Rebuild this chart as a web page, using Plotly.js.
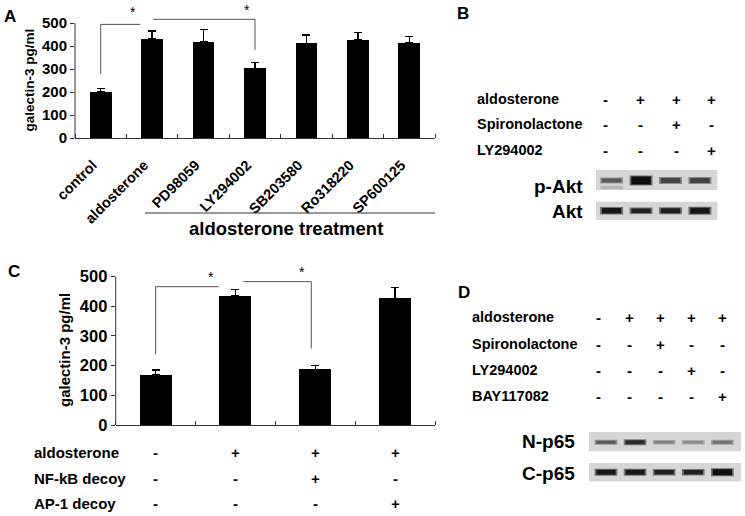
<!DOCTYPE html>
<html><head><meta charset="utf-8">
<script src="https://cdn.plot.ly/plotly-3.0.1.min.js"></script>
<style>html,body{margin:0;padding:0;background:#fff}#chart{width:745px;height:516px}</style>
</head><body><div id="chart"></div>
<script>
// ---------- Panel A data ----------
const aCategories = ['control', 'aldosterone', 'PD98059', 'LY294002', 'SB203580', 'Ro318220', 'SP600125'];
const aValues = [200, 430, 419, 303, 412, 426, 414];
const aErrors = [15, 35, 53, 26, 36, 34, 26];
const aGroupLabel = 'aldosterone treatment';
const yTickValues = [0, 100, 200, 300, 400, 500];
const yTitleText = 'galectin-3 pg/ml';
const aBracket1X = [0, 0, 0.77];
const aBracket1Y = [278, 494, 494];
const aBracket2X = [1.02, 3, 3];
const aBracket2Y = [516, 516, 383];
const aStarX = [0.63, 2.84];
const aStarY = [548, 558];

// ---------- Panel C data ----------
const cValues = [168, 435, 188, 427];
const cErrors = [17, 22, 13, 37];
const cRowLabels = ['aldosterone', 'NF-kB decoy', 'AP-1 decoy'];
const cAldosterone = ['-', '+', '+', '+'];
const cNFkB = ['-', '-', '+', '-'];
const cAP1 = ['-', '-', '-', '+'];
const cBracket1X = [0, 0, 0.79];
const cBracket1Y = [238, 466, 466];
const cBracket2X = [1.1, 1.95, 1.95];
const cBracket2Y = [483, 483, 258];
const cStarX = [0.70, 1.84];
const cStarY = [499, 515];

// ---------- Panel B data ----------
const bRowLabels = ['aldosterone', 'Spironolactone', 'LY294002'];
const bAldosterone = ['-', '+', '+', '+'];
const bSpironolactone = ['-', '-', '+', '-'];
const bLY294002 = ['-', '-', '-', '+'];
const bBlotLabels = ['p-Akt', 'Akt'];
const pAktIntensity = [0.62, 1.0, 0.72, 0.72];
const pAktThickness = [4, 8, 5, 5];
const pAktLowerIntensity = [0.15, 0, 0, 0];
const aktIntensity = [0.95, 0.9, 0.92, 0.95];
const aktThickness = [5.5, 4.5, 5, 6];

// ---------- Panel D data ----------
const dRowLabels = ['aldosterone', 'Spironolactone', 'LY294002', 'BAY117082'];
const dAldosterone = ['-', '+', '+', '+', '+'];
const dSpironolactone = ['-', '-', '+', '-', '-'];
const dLY294002 = ['-', '-', '-', '+', '-'];
const dBAY117082 = ['-', '-', '-', '-', '+'];
const dBlotLabels = ['N-p65', 'C-p65'];
const np65Intensity = [0.62, 0.85, 0.42, 0.36, 0.5];
const np65Thickness = [3, 4, 2.5, 2.5, 3];
const cp65Intensity = [0.95, 0.95, 0.9, 0.9, 1.0];
const cp65Thickness = [5, 5, 4.5, 4.5, 6];

// ---------- build ----------
const F = '"Liberation Sans", Arial, sans-serif';
const W = 745, H = 516;
const px = v => v / W;
const py = v => 1 - v / H;
const black = '#000';
const traces = [];
const annotations = [];
const shapes = [];

function ann(text, x, y, o) {
  return Object.assign({text: text, x: x, y: y, xref: 'paper', yref: 'paper', showarrow: false,
    xanchor: 'center', yanchor: 'middle',
    font: {family: F, size: 15, color: black, weight: 'bold'}}, o || {});
}

// Panel A bars
const aIdx = aCategories.map((c, i) => i);
traces.push({type: 'bar', x: aIdx, y: aValues, width: 0.42, xaxis: 'x', yaxis: 'y',
  marker: {color: black, line: {width: 0}},
  error_y: {type: 'data', array: aErrors, arrayminus: aErrors.map(() => 0), symmetric: false,
    color: black, thickness: 1.3, width: 4},
  hoverinfo: 'skip', showlegend: false});
[[aBracket1X, aBracket1Y], [aBracket2X, aBracket2Y]].forEach(b => {
  traces.push({type: 'scatter', mode: 'lines', x: b[0], y: b[1], xaxis: 'x', yaxis: 'y',
    line: {color: '#555', width: 1}, hoverinfo: 'skip', showlegend: false, cliponaxis: false});
});
aStarX.forEach((x, i) => annotations.push(ann('*', x, aStarY[i], {xref: 'x', yref: 'y',
  font: {family: F, size: 14, color: black}})));

// Panel C bars
const cIdx = cValues.map((v, i) => i);
traces.push({type: 'bar', x: cIdx, y: cValues, width: 0.4, xaxis: 'x2', yaxis: 'y2',
  marker: {color: black, line: {width: 0}},
  error_y: {type: 'data', array: cErrors, arrayminus: cErrors.map(() => 0), symmetric: false,
    color: black, thickness: 1.3, width: 4},
  hoverinfo: 'skip', showlegend: false});
[[cBracket1X, cBracket1Y], [cBracket2X, cBracket2Y]].forEach(b => {
  traces.push({type: 'scatter', mode: 'lines', x: b[0], y: b[1], xaxis: 'x2', yaxis: 'y2',
    line: {color: '#555', width: 1}, hoverinfo: 'skip', showlegend: false, cliponaxis: false});
});
cStarX.forEach((x, i) => annotations.push(ann('*', x, cStarY[i], {xref: 'x2', yref: 'y2',
  font: {family: F, size: 14, color: black}})));

// Blot bands
function bandColor(intensity, halo) {
  const v = Math.round(208 - (halo ? 100 : 195) * intensity);
  return 'rgb(' + v + ',' + v + ',' + v + ')';
}
function addBands(intens, thick, xa, ya, yPos) {
  intens.forEach((it, i) => {
    if (!it) return;
    const lane = i + 1;
    traces.push({type: 'scatter', mode: 'lines', x: [lane - 0.39, lane + 0.39], y: [yPos, yPos],
      xaxis: xa, yaxis: ya, line: {color: bandColor(it, true), width: thick[i] + 2},
      hoverinfo: 'skip', showlegend: false});
    traces.push({type: 'scatter', mode: 'lines', x: [lane - 0.33, lane + 0.33], y: [yPos, yPos],
      xaxis: xa, yaxis: ya, line: {color: bandColor(it, false), width: thick[i]},
      hoverinfo: 'skip', showlegend: false});
  });
}
addBands(pAktIntensity, pAktThickness, 'x3', 'y3', -0.05);
addBands(pAktLowerIntensity, [2, 2, 2, 2], 'x3', 'y3', -0.75);
addBands(aktIntensity, aktThickness, 'x3', 'y4', 0);
addBands(np65Intensity, np65Thickness, 'x4', 'y5', -0.05);
addBands(cp65Intensity, cp65Thickness, 'x4', 'y6', 0);

['y3', 'y4'].forEach(ya => shapes.push({type: 'rect', xref: 'x3 domain', yref: ya + ' domain',
  x0: 0, x1: 1, y0: 0, y1: 1, fillcolor: '#d6d6d6', line: {width: 0}, layer: 'below'}));
['y5', 'y6'].forEach(ya => shapes.push({type: 'rect', xref: 'x4 domain', yref: ya + ' domain',
  x0: 0, x1: 1, y0: 0, y1: 1, fillcolor: '#d6d6d6', line: {width: 0}, layer: 'below'}));

// y-axis lines (stop at 500)
shapes.push({type: 'line', xref: 'x domain', yref: 'y', x0: 0, x1: 0, y0: 0, y1: 500, line: {color: '#333', width: 1}});
shapes.push({type: 'line', xref: 'x2 domain', yref: 'y2', x0: 0, x1: 0, y0: 0, y1: 500, line: {color: '#333', width: 1}});
// group underline in A
shapes.push({type: 'line', xref: 'paper', yref: 'paper', x0: px(145), x1: px(435), y0: py(213), y1: py(213), line: {color: '#333', width: 1}});

// Panel letters
annotations.push(ann('A', px(9.5), py(16), {font: {family: F, size: 17, color: black, weight: 'bold'}}));
annotations.push(ann('B', px(463), py(13.5), {font: {family: F, size: 17, color: black, weight: 'bold'}}));
annotations.push(ann('C', px(13.5), py(271), {font: {family: F, size: 17, color: black, weight: 'bold'}}));
annotations.push(ann('D', px(463.5), py(292), {font: {family: F, size: 17, color: black, weight: 'bold'}}));

// Axis titles
annotations.push(ann(yTitleText, px(28.5), py(80), {textangle: -90, font: {family: F, size: 13.5, color: black, weight: 'bold'}}));
annotations.push(ann(yTitleText, px(64), py(350), {textangle: -90, font: {family: F, size: 15, color: black, weight: 'bold'}}));
annotations.push(ann(aGroupLabel, px(286), py(228), {font: {family: F, size: 18.5, color: black, weight: 'bold'}}));

// Panel C treatment table
const cRows = [cAldosterone, cNFkB, cAP1];
const cRowY = [452.7, 478.3, 503.3];
cRowLabels.forEach((lab, r) => {
  annotations.push(ann(lab, px(31.5), py(cRowY[r]), {xanchor: 'left'}));
  cRows[r].forEach((s, i) => annotations.push(ann(s, i, py(cRowY[r]), {xref: 'x2'})));
});

// Panel B treatment table
const bRows = [bAldosterone, bSpironolactone, bLY294002];
const bRowY = [99.3, 124.3, 150];
bRowLabels.forEach((lab, r) => {
  annotations.push(ann(lab, px(475), py(bRowY[r]), {xanchor: 'left', font: {family: F, size: 14.5, color: black, weight: 'bold'}}));
  bRows[r].forEach((s, i) => annotations.push(ann(s, px(605 + i * 35.57), py(bRowY[r]))));
});
annotations.push(ann(bBlotLabels[0], px(585), py(186), {xanchor: 'right', font: {family: F, size: 19, color: black, weight: 'bold'}}));
annotations.push(ann(bBlotLabels[1], px(585), py(211.5), {xanchor: 'right', font: {family: F, size: 19, color: black, weight: 'bold'}}));

// Panel D treatment table
const dRows = [dAldosterone, dSpironolactone, dLY294002, dBAY117082];
const dRowY = [317.3, 344, 370, 396];
dRowLabels.forEach((lab, r) => {
  annotations.push(ann(lab, px(470), py(dRowY[r]), {xanchor: 'left', font: {family: F, size: 14.5, color: black, weight: 'bold'}}));
  dRows[r].forEach((s, i) => annotations.push(ann(s, px(598.3 + i * 31.1), py(dRowY[r]))));
});
annotations.push(ann(dBlotLabels[0], px(577), py(441.5), {xanchor: 'right', font: {family: F, size: 19, color: black, weight: 'bold'}}));
annotations.push(ann(dBlotLabels[1], px(577), py(473), {xanchor: 'right', font: {family: F, size: 19, color: black, weight: 'bold'}}));

const hidden = {visible: false, showgrid: false, zeroline: false, fixedrange: true};
const layout = {
  width: W, height: H, autosize: false,
  margin: {l: 0, r: 0, t: 0, b: 0, pad: 0},
  paper_bgcolor: '#fff', plot_bgcolor: 'rgba(0,0,0,0)',
  font: {family: F, color: black},
  showlegend: false,
  bargap: 0,
  xaxis: {domain: [px(75), px(435)], range: [-0.5, 6.5], anchor: 'y',
    tickmode: 'array', tickvals: aIdx, ticktext: aCategories, tickangle: -45, ticks: '',
    ticklabelstandoff: 12, ticklabelshift: -8,
    showline: true, linecolor: '#333', linewidth: 1, showgrid: false, zeroline: false, automargin: false,
    tickfont: {family: F, size: 14.5, color: black, weight: 'bold'},
    minor: {tickmode: 'linear', tick0: 0.5, dtick: 1, ticks: 'inside', ticklen: 4, tickcolor: '#333', showgrid: false}},
  yaxis: {domain: [py(138), 1], range: [0, 600], anchor: 'x',
    tickmode: 'array', tickvals: yTickValues, ticks: 'outside', ticklen: 4, tickcolor: '#333',
    showline: false, showgrid: false, zeroline: false, automargin: false,
    tickfont: {family: F, size: 15, color: black, weight: 'bold'}},
  xaxis2: {domain: [px(115.7), px(435)], range: [-0.5, 3.5], anchor: 'y2',
    showticklabels: false, ticks: '', tickmode: 'array', tickvals: [],
    showline: true, linecolor: '#333', linewidth: 1, showgrid: false, zeroline: false, automargin: false,
    minor: {tickmode: 'linear', tick0: 0.5, dtick: 1, ticks: 'inside', ticklen: 4, tickcolor: '#333', showgrid: false}},
  yaxis2: {domain: [py(425), py(258.8)], range: [0, 560], anchor: 'x2',
    tickmode: 'array', tickvals: yTickValues, ticks: 'outside', ticklen: 4, tickcolor: '#333',
    showline: false, showgrid: false, zeroline: false, automargin: false,
    tickfont: {family: F, size: 16.5, color: black, weight: 'bold'}},
  xaxis3: Object.assign({domain: [px(596), px(717.3)], range: [0.47, 4.59], anchor: 'y3'}, hidden),
  yaxis3: Object.assign({domain: [py(190), py(170)], range: [-1, 1], anchor: 'x3'}, hidden),
  yaxis4: Object.assign({domain: [py(220), py(201.7)], range: [-1, 1], anchor: 'x3'}, hidden),
  xaxis4: Object.assign({domain: [px(589), px(741)], range: [0.416, 5.64], anchor: 'y5'}, hidden),
  yaxis5: Object.assign({domain: [py(451.3), py(432)], range: [-1, 1], anchor: 'x4'}, hidden),
  yaxis6: Object.assign({domain: [py(481.3), py(463)], range: [-1, 1], anchor: 'x4'}, hidden),
  shapes: shapes,
  annotations: annotations
};
Plotly.newPlot('chart', traces, layout, {staticPlot: true, displayModeBar: false});
</script></body></html>
